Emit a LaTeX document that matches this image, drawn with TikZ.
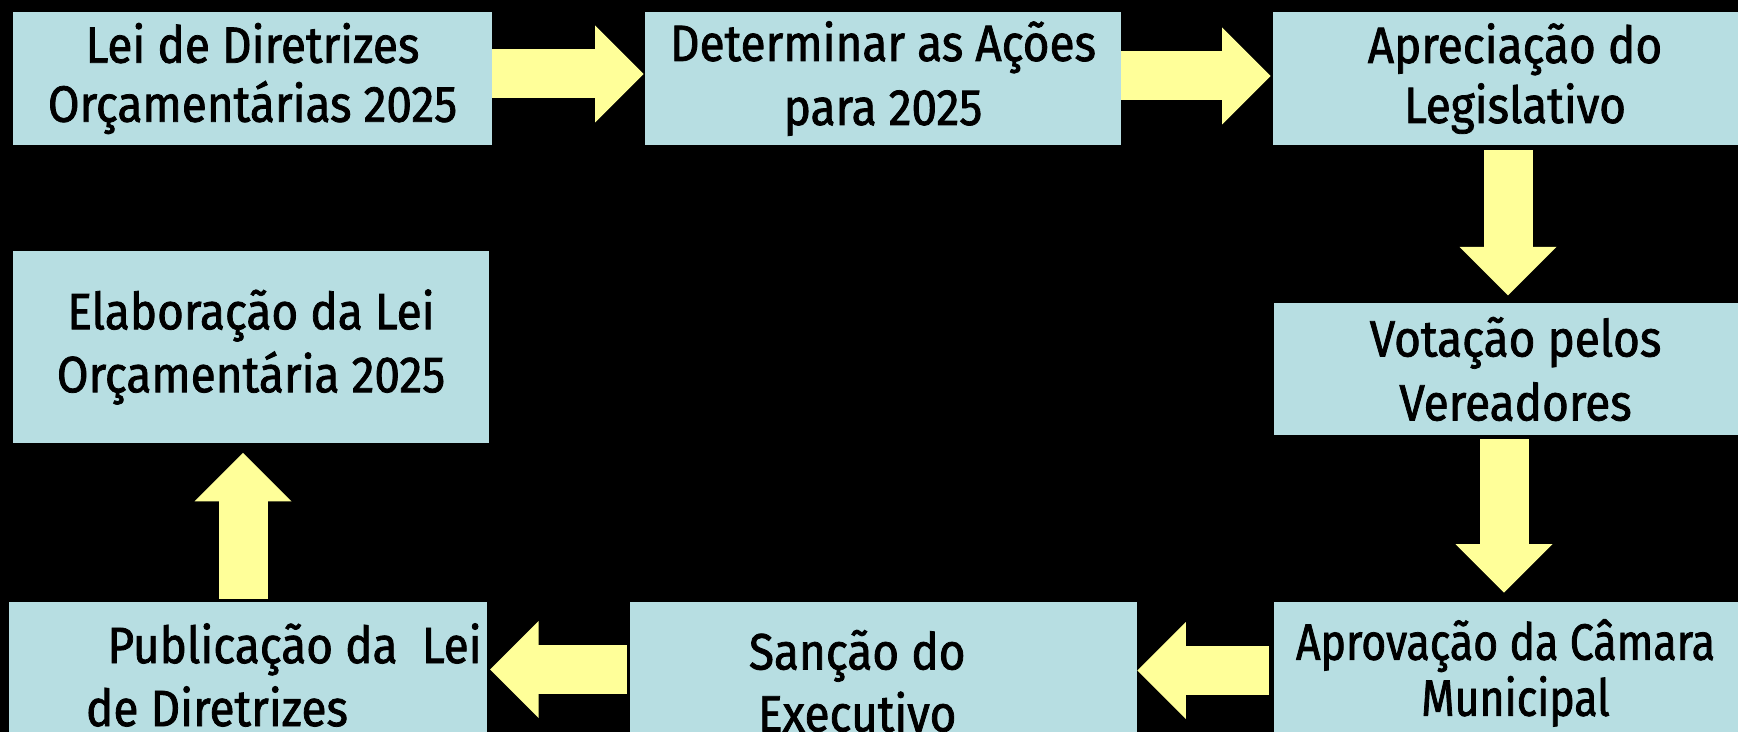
\documentclass[tikz,border=0pt]{standalone}
\usepackage{fontspec}
\setmainfont{Fira Sans}[FakeStretch=0.9,FakeBold=1.5]
\newfontfamily\narrowfont{Fira Sans}[FakeStretch=0.84,FakeBold=1.5]
\usetikzlibrary{arrows.meta,calc}
\definecolor{boxfill}{RGB}{183,222,226}
\definecolor{arrowyellow}{RGB}{255,255,153}
\begin{document}
\begin{tikzpicture}[x=0.5pt,y=-0.5pt,
  stagebox/.style={rectangle, fill=boxfill, draw=none, inner sep=0pt, align=center,
    font=\fontsize{25.5}{29.5}\selectfont, text=black},
  blockarrow/.style={draw=arrowyellow, line width=24.5pt,
    -{Triangle[length=24.25pt,width=48.5pt,line width=0pt]},
    preaction={draw=arrowyellow, line width=24.5pt, -, shorten >=22pt}}]
\fill[black] (0,0) rectangle (1738,732);
\useasboundingbox (0,0) rectangle (1738,732);
\begin{scope}
\clip (0,0) rectangle (1738,732);
\node[stagebox, minimum width=239.5pt, minimum height=66.5pt] (b1) at (252.5,78.5)
  {Lei de Diretrizes\\Orçamentárias 2025};
\node[stagebox, minimum width=238pt, minimum height=66.5pt,
  font=\fontsize{25.5}{32}\selectfont] (b2) at (883,78.5)
  {Determinar as Ações\\para 2025};
\node[stagebox, minimum width=242pt, minimum height=66.5pt,
  font=\fontsize{25.5}{30}\selectfont] (b3) at (1515,78.5)
  {Apreciação do\\Legislativo};
\node[stagebox, minimum width=241.5pt, minimum height=66pt,
  font=\fontsize{25.5}{32}\selectfont] (b4) at (1515.5,369)
  {Votação pelos\\Vereadores};
\node[stagebox, minimum width=241.5pt, minimum height=71pt,
  font=\narrowfont\fontsize{25.5}{28}\selectfont] (b5) at (1515.5,673)
  {Aprovação da Câmara\hspace*{10pt}\\Municipal};
\node[stagebox, minimum width=253.75pt, minimum height=79pt,
  font=\fontsize{25.5}{31}\selectfont] (b6) at (883.25,681)
  {Sanção do\hspace*{26pt}\\Executivo\hspace*{26pt}};
\node[stagebox, minimum width=238.8pt, minimum height=73pt, align=left,
  font=\fontsize{25.5}{31.5}\selectfont] (b7) at (247.8,675)
  {\hspace*{46.75pt}Publicação da\ \ Lei\\\hspace*{36pt}de Diretrizes};
\node[stagebox, minimum width=238pt, minimum height=95.5pt,
  font=\fontsize{25.5}{31.5}\selectfont] (b8) at (251,347)
  {Elaboração da Lei\\Orçamentária 2025};

\draw[blockarrow] ($(b1.east)+(0,-4.5)$) -- ($(b2.west)+(-1,-4.5)$);
\draw[blockarrow] ($(b2.east)+(0,-2.5)$) -- ($(b3.west)+(-2,-2.5)$);
\draw[blockarrow] ($(b3.south)+(-7,5)$) -- ($(b4.north)+(-7.5,-7.3)$);
\draw[blockarrow] ($(b4.south)+(-11.5,3.7)$) -- ($(b5.north)+(-11.5,-9)$);
\draw[blockarrow] ($(b5.west)+(-5,-2.5)$) -- ($(b6.east)+(0,-10.5)$);
\draw[blockarrow] ($(b6.west)+(-2.5,-11.5)$) -- ($(b7.east)+(3,-5.5)$);
\draw[blockarrow] ($(b7.north)+(-4.8,-3)$) -- ($(b8.south)+(-8,10)$);
\end{scope}
\end{tikzpicture}
\end{document}
